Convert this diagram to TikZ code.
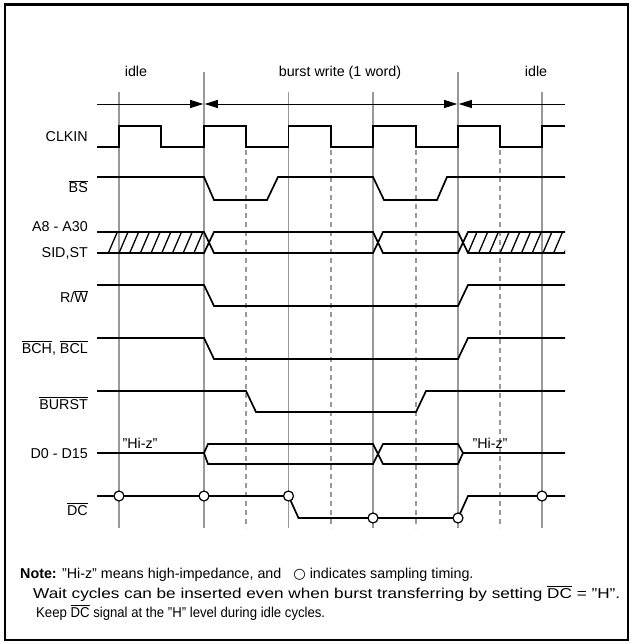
\documentclass[tikz,border=0pt]{standalone}
\usepackage{fontspec}
\setmainfont{Liberation Sans}
\newfontfamily\symfont{DejaVu Sans}
\usetikzlibrary{arrows.meta}
\newcommand\labfont{\fontsize{14.3}{17}\selectfont}
\newcommand\notefont{\fontsize{14.3}{17}\selectfont}
\newcommand\ovl[1]{$\overline{\mbox{#1}}$}
\newcommand\qq{\char34\relax}
\begin{document}
\begin{tikzpicture}[x=1pt,y=-1pt,
  sig/.style={line width=1.7pt, black, line join=miter},
  gridsolid/.style={line width=1.4pt, black!40},
  griddash/.style={line width=1.4pt, black!40, dash pattern=on 5pt off 4pt},
  lbl/.style={font=\labfont, anchor=base east, inner sep=0pt},
  toplbl/.style={font=\labfont, anchor=base, inner sep=0pt},
  notelbl/.style={font=\notefont, anchor=base west, inner sep=0pt},
  samp/.style={circle, draw=black, fill=white, line width=1.2pt, minimum size=10pt, inner sep=0pt},
  dim/.style={line width=0.8pt, black},
  hatch/.style={line width=1.3pt, black}]
\useasboundingbox (0,0) rectangle (632,644);
% frame
\draw[line width=2.4pt] (5,4.5) rectangle (628,640);

% grid lines
\foreach \x in {119,288.5,373,542} \draw[gridsolid] (\x,92) -- (\x,528);
\foreach \x in {204,458} \draw[gridsolid] (\x,72) -- (\x,528);
\foreach \x in {246,331,416,500} \draw[griddash] (\x,150) -- (\x,528);

% top labels
\node[toplbl] (idleA) at (136,77) {idle};
\node[toplbl] (burst) at (340,77) {burst write (1 word)};
\node[toplbl] (idleB) at (536,77) {idle};

% dimension arrows
\coordinate (d0) at (97,104);
\coordinate (d1) at (203.2,104);
\coordinate (d2) at (204.8,104);
\coordinate (d3) at (457.2,104);
\coordinate (d4) at (458.8,104);
\coordinate (d5) at (565,104);
\draw[dim, -{Triangle[length=13pt,width=8pt]}] (d0) -- (d1);
\draw[dim, {Triangle[length=13pt,width=8pt]}-{Triangle[length=13pt,width=8pt]}] (d2) -- (d3);
\draw[dim, {Triangle[length=13pt,width=8pt]}-] (d4) -- (d5);

% signal labels
\node[lbl] (lclk) at (88,142) {CLKIN};
\node[lbl] (lbs) at (88,193) {\ovl{BS}};
\node[lbl] (laddr) at (88,231) {A8 - A30};
\node[lbl] (lsid) at (88,257) {SID,ST};
\node[lbl] (lrw) at (88,302) {R/\ovl{W}};
\node[lbl] (lbch) at (88,353) {\ovl{BCH}, \ovl{BCL}};
\node[lbl] (lburst) at (88,409) {\ovl{BURST}};
\node[lbl] (ldata) at (88,458) {D0 - D15};
\node[lbl] (ldc) at (88,515) {\ovl{DC}};

% CLKIN
\draw[sig] (97,147) -- (119,147) -- (119,126) -- (161,126) -- (161,147) -- (204,147) -- (204,126) -- (246,126) -- (246,147) -- (288.5,147) -- (288.5,126) -- (331,126) -- (331,147) -- (373,147) -- (373,126) -- (416,126) -- (416,147) -- (458,147) -- (458,126) -- (500,126) -- (500,147) -- (542,147) -- (542,126) -- (565,126);

% BS
\draw[sig] (97,177) -- (204,177) -- (214,200) -- (267,200) -- (278,177) -- (373,177) -- (384,200) -- (437,200) -- (447,177) -- (565,177);

% Address bus
\begin{scope}
\clip (97,232) -- (204,232) -- (209,242.5) -- (204,253) -- (97,253) -- cycle;
\foreach \k in {0,...,9} \draw[hatch] ({108.3+10.7*\k},253) -- ({117.3+10.7*\k},232);
\end{scope}
\begin{scope}
\clip (463,242.5) -- (468,232) -- (565,232) -- (565,253) -- (468,253) -- cycle;
\foreach \k in {-1,...,9} \draw[hatch] ({468+10.7*\k},253) -- ({477+10.7*\k},232);
\end{scope}
\draw[sig] (97,232) -- (204,232) -- (214,253) -- (373,253) -- (383,232) -- (458,232) -- (468,253) -- (565,253);
\draw[sig] (97,253) -- (204,253) -- (214,232) -- (373,232) -- (383,253) -- (458,253) -- (468,232) -- (565,232);

% R/W
\draw[sig] (97,285) -- (204,285) -- (214,306) -- (458,306) -- (468,285) -- (565,285);
% BCH, BCL
\draw[sig] (97,338) -- (204,338) -- (214,359) -- (458,359) -- (468,338) -- (565,338);
% BURST
\draw[sig] (97,391) -- (246,391) -- (256,412) -- (416,412) -- (426,391) -- (565,391);

% Data bus
\draw[sig] (97,453) -- (204,453) -- (208,444) -- (373,444) -- (383,464) -- (458,464) -- (463,453) -- (565,453);
\draw[sig] (204,453) -- (208,464) -- (373,464) -- (383,444) -- (458,444) -- (463,453);
\node[toplbl] (hizA) at (140,448) {\qq Hi-z\qq};
\node[toplbl] (hizB) at (490,448) {\qq Hi-z\qq};

% DC
\draw[sig] (97,496) -- (288.5,496) -- (298.5,518) -- (458,518) -- (468,496) -- (565,496);
\node[samp] (s1) at (119,496) {};
\node[samp] (s2) at (204,496) {};
\node[samp] (s3) at (288.5,496) {};
\node[samp] (s4) at (373,518) {};
\node[samp] (s5) at (458,518) {};
\node[samp] (s6) at (542,496) {};

% note
\node[notelbl] (n1) at (20,578) {\textbf{Note:} \qq Hi-z\qq{} means high-impedance, and \ \ {\symfont ○} indicates sampling timing.};
\node[notelbl] (n2) at (33,598) {\resizebox{587pt}{\height}{Wait cycles can be inserted even when burst transferring by setting \ovl{DC} = \qq H\qq.}};
\node[notelbl] (n3) at (36,617) {\resizebox{289pt}{\height}{Keep \ovl{DC} signal at the \qq H\qq{} level during idle cycles.}};
\end{tikzpicture}
\end{document}
